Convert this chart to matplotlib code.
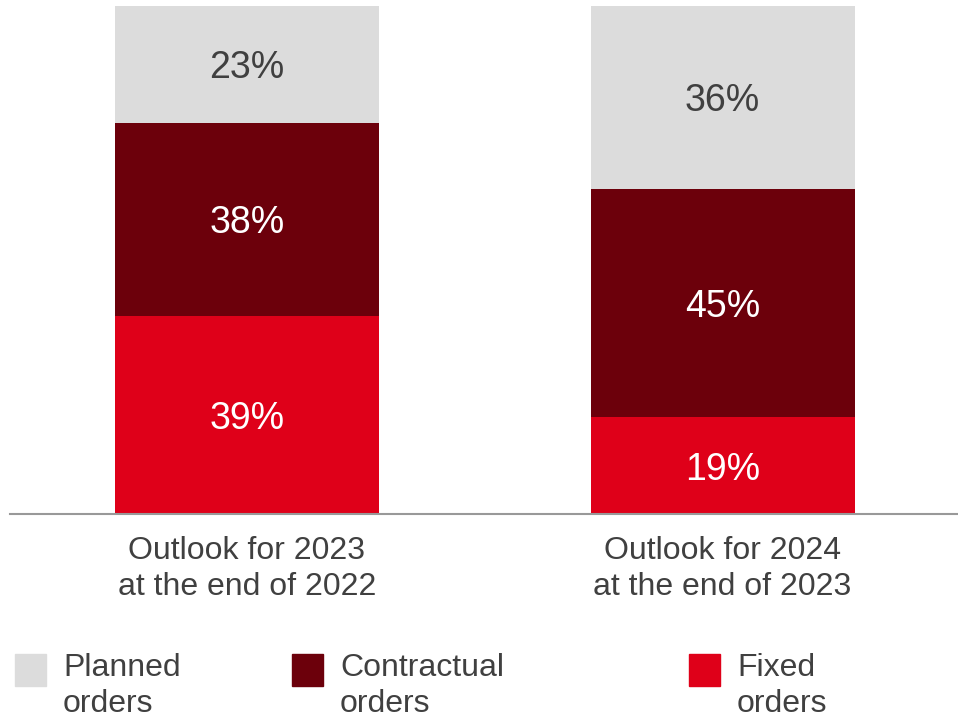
import matplotlib
matplotlib.use("Agg")
import matplotlib.pyplot as plt
from matplotlib.patches import Rectangle

# === DATA ===
categories = ["Outlook for 2023\nat the end of 2022", "Outlook for 2024\nat the end of 2023"]
fixed = [39, 19]
contractual = [38, 45]
planned = [23, 36]
series_names = ["Planned\norders", "Contractual\norders", "Fixed\norders"]

# === STYLE ===
c_fixed = "#DF0019"
c_contract = "#6C000B"
c_planned = "#DCDCDC"
text_dark = "#404040"
plt.rcParams["font.family"] = ["Liberation Sans", "DejaVu Sans"]

W, H = 958, 719
fig = plt.figure(figsize=(W / 100, H / 100), dpi=100)
ax = fig.add_axes([10 / W, (H - 514) / H, 1 - 10 / W, 508 / H])

x = [0, 1]
bw = 0.555
ax.bar(x, fixed, bw, color=c_fixed)
ax.bar(x, contractual, bw, bottom=fixed, color=c_contract)
bottom2 = [f + c for f, c in zip(fixed, contractual)]
ax.bar(x, planned, bw, bottom=bottom2, color=c_planned)

for i in x:
    ax.text(i, fixed[i] / 2, f"{fixed[i]}%", ha="center", va="center_baseline",
            color="white", fontsize=27)
    ax.text(i, fixed[i] + contractual[i] / 2, f"{contractual[i]}%", ha="center",
            va="center_baseline", color="white", fontsize=27)
    ax.text(i, bottom2[i] + planned[i] / 2, f"{planned[i]}%", ha="center",
            va="center_baseline", color=text_dark, fontsize=27)

ax.set_xlim(-0.498, 1.495)
ax.set_ylim(0, 100)
ax.set_xticks(x)
ax.set_xticklabels(categories, fontsize=23, color=text_dark, linespacing=1.27)
ax.tick_params(axis="x", length=0, pad=16)
ax.set_yticks([])
for side in ["top", "right", "left"]:
    ax.spines[side].set_visible(False)
ax.spines["bottom"].set_color("#999999")
ax.spines["bottom"].set_linewidth(1.5)

# legend along the bottom
legend_x = [15, 292, 689]
legend_colors = [c_planned, c_contract, c_fixed]
for lx, col, name in zip(legend_x, legend_colors, series_names):
    fig.patches.append(Rectangle((lx / W, (H - 686) / H), 31 / W, 32 / H,
                                 transform=fig.transFigure, color=col))
    fig.text((lx + 48) / W, (H - 686) / H, name, ha="left", va="center",
             fontsize=23, color=text_dark, linespacing=1.25)

plt.savefig("out.png", dpi=100)
